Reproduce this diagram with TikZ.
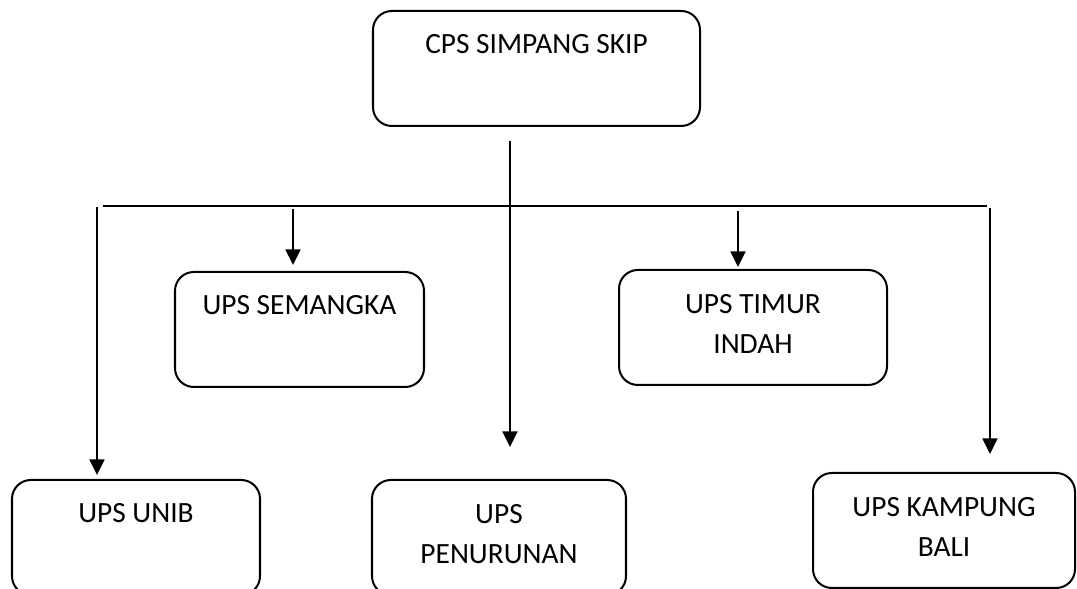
\documentclass[tikz,border=0pt]{standalone}
\usepackage{fontspec}
\setmainfont{Carlito}
\usetikzlibrary{arrows.meta,positioning}

\begin{document}
\begin{tikzpicture}[>={Triangle[length=6.2pt,width=5.8pt]},
  box/.style={draw,line width=0.8pt,rounded corners=7.5pt,minimum height=1.61cm,inner sep=0pt},
  lbl/.style={align=center,inner sep=0pt,font=\fontsize{11.7}{16.3}\selectfont},
  arr/.style={->,line width=1.1pt}]
  \useasboundingbox (0,0) rectangle (15.078,-8.246);
  \node[box,minimum width=4.578cm] (cps) at (7.511,-0.959) {};
  \node[box,minimum width=3.486cm] (sem) at (4.193,-4.613) {};
  \node[box,minimum width=3.752cm] (tim) at (10.542,-4.585) {};
  \node[box,minimum width=3.472cm] (unib) at (1.904,-7.525) {};
  \node[box,minimum width=3.556cm] (pen) at (6.986,-7.525) {};
  \node[box,minimum width=3.668cm] (kam) at (13.216,-7.427) {};
  % labels: baseline of the last line
  \node[lbl,anchor=base] (cpsT) at ([yshift=-0.616cm]cps.north) {CPS SIMPANG SKIP};
  \node[lbl,anchor=base] (semT) at ([yshift=-0.616cm]sem.north) {UPS SEMANGKA};
  \node[lbl,anchor=base] (timT) at ([yshift=-1.19cm]tim.north) {UPS TIMUR\\INDAH};
  \node[lbl,anchor=base] (unibT) at ([yshift=-0.616cm]unib.north) {UPS UNIB};
  \node[lbl,anchor=base] (penT) at ([yshift=-1.19cm]pen.north) {UPS\\PENURUNAN};
  \node[lbl,anchor=base] (kamT) at ([yshift=-1.19cm]kam.north) {UPS KAMPUNG\\BALI};
  % bus line and arrows
  \coordinate (busL) at (1.442,-2.884);
  \coordinate (busR) at (13.818,-2.884);
  \draw[line width=0.8pt] (busL) -- (busR);
  \coordinate (trunk) at (7.14,-1.974);
  \draw[arr,shorten >=0.448cm] (trunk) -- (trunk |- pen.north);
  \coordinate (toUnib) at (1.358,-2.898);
  \draw[arr,shorten >=0.056cm] (toUnib) -- (toUnib |- unib.north);
  \coordinate (toSem) at (4.102,-2.926);
  \draw[arr,shorten >=0.084cm] (toSem) -- (toSem |- sem.north);
  \coordinate (toTim) at (10.332,-2.954);
  \draw[arr,shorten >=0.028cm] (toTim) -- (toTim |- tim.north);
  \coordinate (toKam) at (13.86,-2.912);
  \draw[arr,shorten >=0.252cm] (toKam) -- (toKam |- kam.north);
\end{tikzpicture}
\end{document}
